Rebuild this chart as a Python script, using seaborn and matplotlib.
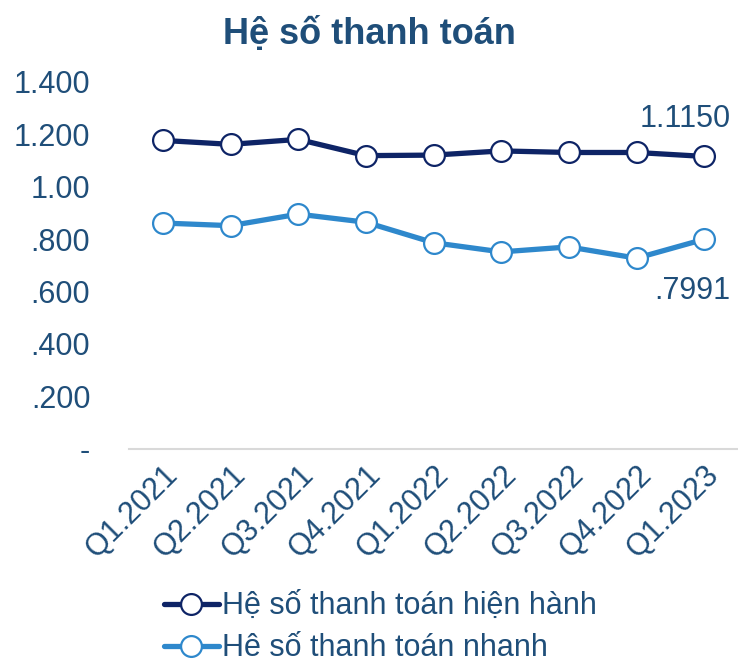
import pandas as pd
import seaborn as sns
import matplotlib.pyplot as plt

# Data
quarters = ["Q1.2021", "Q2.2021", "Q3.2021", "Q4.2021", "Q1.2022",
            "Q2.2022", "Q3.2022", "Q4.2022", "Q1.2023"]
hien_hanh = [1.176, 1.161, 1.180, 1.118, 1.120, 1.136, 1.130, 1.130, 1.115]
nhanh = [0.861, 0.851, 0.895, 0.864, 0.786, 0.751, 0.770, 0.727, 0.7991]
series_names = ["Hệ số thanh toán hiện hành", "Hê số thanh toán nhanh"]
y_ticks = [0, 0.2, 0.4, 0.6, 0.8, 1.0, 1.2, 1.4]
y_tick_labels = ["-", ".200", ".400", ".600", ".800", "1.00", "1.200", "1.400"]

df = pd.DataFrame({
    "quarter": quarters * 2,
    "value": hien_hanh + nhanh,
    "series": [series_names[0]] * len(quarters) + [series_names[1]] * len(quarters),
})

sns.set_style("white")
plt.rcParams['font.family'] = ['Liberation Sans', 'DejaVu Sans']

text_color = "#1F4E79"
palette = {series_names[0]: "#0E2466", series_names[1]: "#2E88CC"}

fig = plt.figure(figsize=(7.38, 6.64), dpi=100)
ax = fig.add_axes([0.175, 0.324, 0.825, 0.553])

sns.lineplot(data=df, x="quarter", y="value", hue="series", palette=palette,
             marker="o", markersize=15, markerfacecolor="white",
             markeredgewidth=1.6, linewidth=3.8, sort=False, ax=ax)

# marker edge colour per series
for line in ax.lines:
    line.set_markeredgecolor(line.get_color())

ax.set_xlim(-0.5, len(quarters) - 0.5)
ax.set_ylim(0, 1.4)
ax.set_yticks(y_ticks)
ax.set_yticklabels(y_tick_labels)
ax.set_xlabel("")
ax.set_ylabel("")
ax.tick_params(axis="y", labelsize=22, labelcolor=text_color, length=0, pad=28)
ax.tick_params(axis="x", labelsize=22, labelcolor=text_color, length=0, pad=8)
plt.setp(ax.get_xticklabels(), rotation=45, ha="right", rotation_mode="anchor")
for lbl in ax.get_yticklabels():
    lbl.set_horizontalalignment("right")

for s in ["top", "right", "left"]:
    ax.spines[s].set_visible(False)
ax.spines["bottom"].set_color("#D9D9D9")
ax.spines["bottom"].set_linewidth(1.5)

# data labels on last point
ax.annotate("1.1150", (len(quarters) - 1, hien_hanh[-1]), xytext=(19, 27),
            textcoords="offset points", ha="right", va="center", fontsize=22,
            color=text_color)
ax.annotate(".7991", (len(quarters) - 1, nhanh[-1]), xytext=(19, -37),
            textcoords="offset points", ha="right", va="center", fontsize=22,
            color=text_color)

fig.suptitle("Hệ số thanh toán", x=0.5, y=0.975, fontsize=26, fontweight="bold",
             color=text_color)

handles, labels = ax.get_legend_handles_labels()
ax.get_legend().remove()
leg = fig.legend(handles, labels, loc="upper left", bbox_to_anchor=(0.205, 0.128),
                 frameon=False, fontsize=22, handlelength=1.8, handletextpad=0.1,
                 labelspacing=0.4, borderaxespad=0)
for t in leg.get_texts():
    t.set_color(text_color)

fig.savefig("out.png", dpi=100)
